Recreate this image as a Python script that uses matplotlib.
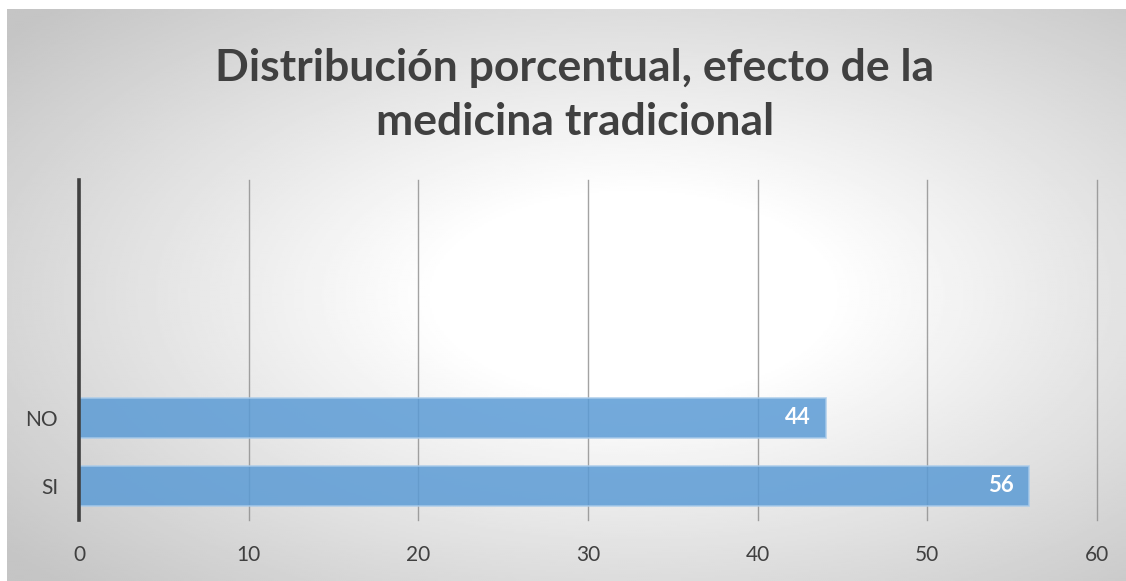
import numpy as np
import matplotlib
matplotlib.use("Agg")
from matplotlib import pyplot as plt

# Percentages per answer
categories = ["SI", "NO", "", "", ""]
values = [56, 44]
ticks = [0, 10, 20, 30, 40, 50, 60]

W, H = 1126, 581
fig = plt.figure(figsize=(W / 100, H / 100), dpi=100)
fig.patch.set_facecolor("white")

# Radial gray-to-white backdrop behind the chart area
bg = fig.add_axes([7 / W, 0, 1 - 7 / W, 1 - 9 / H])
bg.set_axis_off()
gx, gy = np.meshgrid(np.linspace(0, 1, 560), np.linspace(0, 1, 290))
r = np.sqrt(((gx - 0.56) / 0.5) ** 2 + ((gy - 0.5) / 0.5) ** 2)
shade = 1 - 0.23 * np.clip((r - 0.35) / 1.1, 0, 1)
bg.imshow(shade, cmap="gray", vmin=0, vmax=1, aspect="auto",
          extent=[0, 1, 0, 1], interpolation="bilinear")

ax = fig.add_axes([79 / W, (H - 520) / H, (1097 - 79) / W, 340 / H])
ax.patch.set_alpha(0)

y = np.arange(len(values))
bars = ax.barh(y, values, height=0.59, color="#5b9bd5", alpha=0.85,
               edgecolor="#a9cbea", linewidth=1.2, zorder=3)
for b, v in zip(bars, values):
    ax.text(v - 0.9, b.get_y() + b.get_height() / 2, str(v), ha="right",
            va="center", color="white", fontsize=16, fontweight="bold",
            family="Lato", zorder=4)

ax.set_xlim(0, 60)
ax.set_ylim(-0.5, 4.5)
ax.set_xticks(ticks)
ax.set_yticks(np.arange(len(categories)))
ax.set_yticklabels(categories)
ax.grid(axis="x", color="#8c8c8c", linewidth=1, alpha=0.8, zorder=1)
for gl in ax.xaxis.get_gridlines():
    gl.set_clip_on(False)
ax.tick_params(axis="both", length=0, labelsize=15, colors="#404040")
ax.tick_params(axis="x", pad=18)
ax.tick_params(axis="y", pad=15)
for lab in ax.get_xticklabels() + ax.get_yticklabels():
    lab.set_family("Lato")
for s in ["top", "right", "bottom"]:
    ax.spines[s].set_visible(False)
ax.spines["left"].set_color("#404040")
ax.spines["left"].set_linewidth(2.6)
ax.spines["left"].set_zorder(5)

fig.text(575 / W, 1 - 95 / H, "Distribución porcentual, efecto de la\nmedicina tradicional",
         ha="center", va="center", fontsize=32, fontweight="bold",
         family="Lato", color="#404040", linespacing=1.42)

plt.savefig("out.png", dpi=100)
